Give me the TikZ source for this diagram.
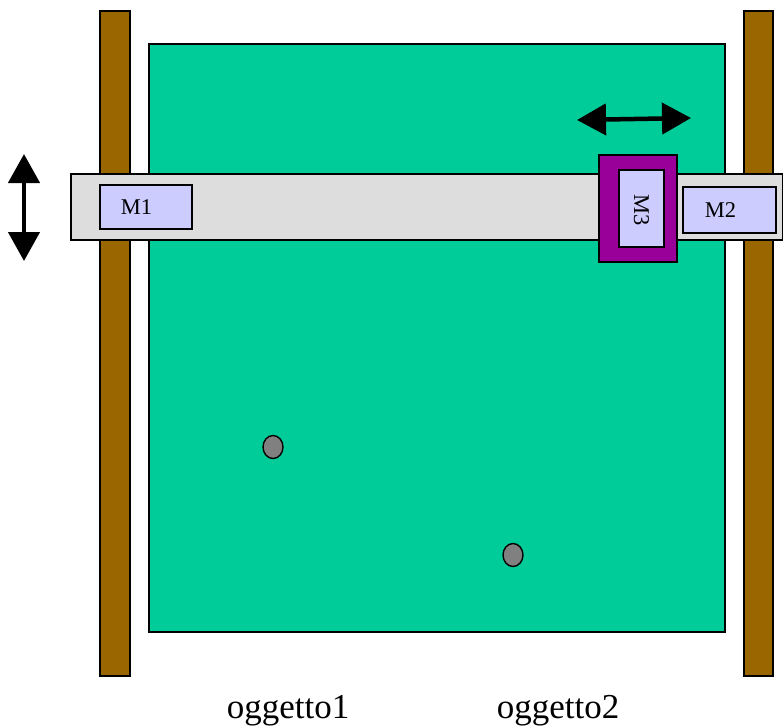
\documentclass[tikz,border=0pt]{standalone}
\usepackage{fontspec}
\setmainfont{Liberation Serif}
\usetikzlibrary{arrows.meta,shapes.geometric}
\definecolor{post}{HTML}{996600}
\definecolor{table}{HTML}{00CC99}
\definecolor{bar}{HTML}{DDDDDD}
\definecolor{motor}{HTML}{CCCCFF}
\definecolor{carriage}{HTML}{990099}
\definecolor{obj}{HTML}{808080}
\tikzset{
  part/.style={draw=black, line width=1.4pt},
  motorbox/.style={part, fill=motor, inner sep=0pt, font=\fontsize{22.5}{24}\selectfont},
  thing/.style={part, fill=obj, ellipse, minimum width=20pt, minimum height=23pt, inner sep=0pt},
  label/.style={font=\fontsize{35}{40}\selectfont},
  movearrow/.style={line width=4.5pt, {Triangle[length=29pt,width=31pt]}-{Triangle[length=29pt,width=31pt]}}
}
\begin{document}
\begin{tikzpicture}[x=1pt, y=-1pt]
\useasboundingbox (0,0) rectangle (783,726);
% guide posts
\draw[part, fill=post] (100,11) rectangle (130,676);
\draw[part, fill=post] (744,11) rectangle (773,676);
% work table
\draw[part, fill=table] (149,44) rectangle (725,632);
% sliding bar
\draw[part, fill=bar] (71,174) rectangle (783,240);
% motors (labels sit a little left of centre)
\node[motorbox, minimum width=92pt, minimum height=44pt] (m1) at (146,207) {M1\hspace*{19pt}};
\node[motorbox, minimum width=93pt, minimum height=46pt] (m2) at (729.5,210) {M2\hspace*{18pt}};
\draw[part, fill=carriage] (599,155) rectangle (677,262);
\node[motorbox, minimum width=45pt, minimum height=77pt] (m3) at (641.5,208.5) {};
\node[font=\fontsize{22.5}{24}\selectfont, rotate=-90] (m3t) at ([yshift=-2pt]m3.center) {M3};
% objects on the table
\node[thing] (o1) at (273,447) {};
\node[thing] (o2) at (513,555) {};
% labels
\node[label, anchor=base] (l1) at (288,718) {oggetto1};
\node[label, anchor=base] (l2) at (558,718) {oggetto2};
% movement arrows
\coordinate (vt) at (24,154);
\coordinate (vb) at (24,261);
\draw[movearrow] (vt) -- (vb);
\coordinate (hl) at (577,120);
\coordinate (hr) at (691,118);
\draw[movearrow] (hl) -- (hr);
\end{tikzpicture}
\end{document}
